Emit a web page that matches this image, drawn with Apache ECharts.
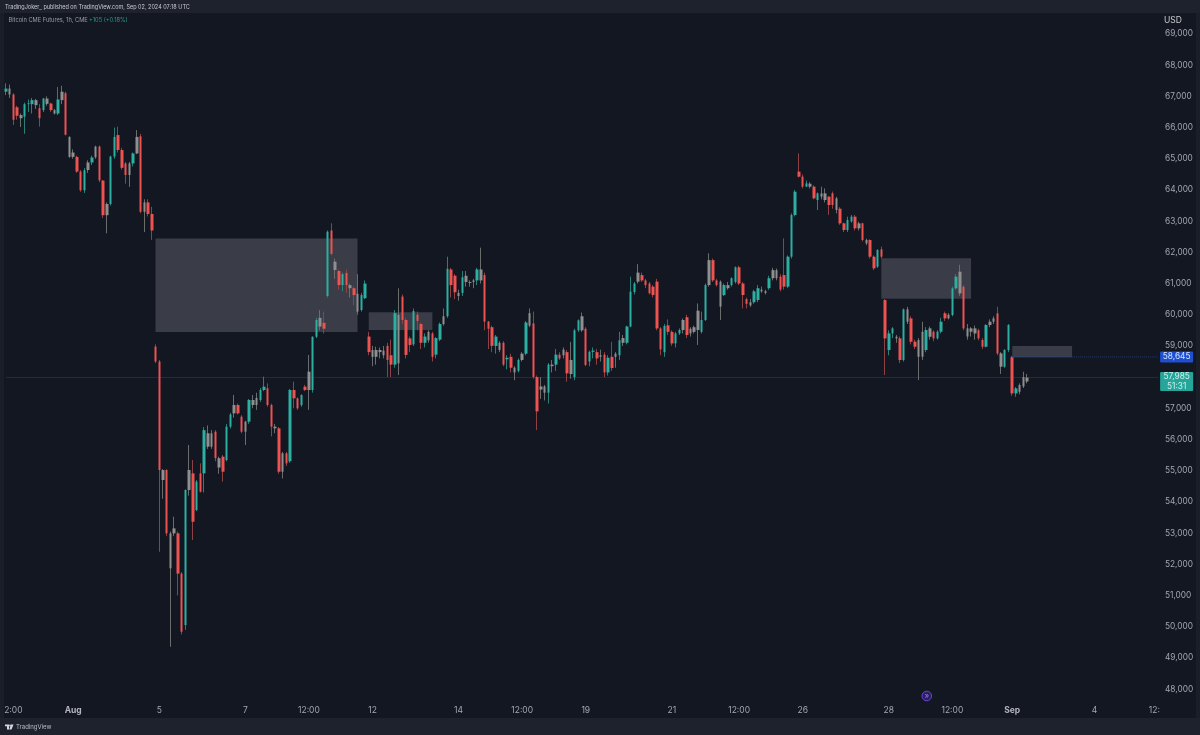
<!DOCTYPE html>
<html>
<head>
<meta charset="utf-8">
<style>html,body{margin:0;padding:0;background:#131722}#c{width:1200px;height:735px}</style>
<script src="https://cdn.jsdelivr.net/npm/echarts@6/dist/echarts.min.js"></script>
</head>
<body>
<div id="c"></div>
<script>
// Each row: open, close, low, high
const candles = [
[67150,67250,67040,67420],[67250,67060,66950,67380],[67060,66250,66080,67100],[66650,66380,66250,66700],[66300,66400,66020,66450],
[66350,66750,65800,66800],[66750,66780,66500,66900],[66750,66880,66450,66950],[66880,66720,66600,66920],[66620,66300,66030,66750],
[66560,66930,66500,66950],[66930,66760,66700,67000],[66770,66560,66500,66800],[66560,66450,66420,66600],[66450,66900,66400,67300],
[66880,67150,66750,67340],[67100,65770,65750,67150],[65700,65060,65030,65720],[65060,65200,65000,65300],[65060,64590,64550,65100],
[64590,63990,63940,64640],[63990,64630,63900,64700],[64640,64880,64550,64950],[64880,65040,64800,65100],[65050,65390,65000,65420],
[65390,64310,64250,65420],[64300,63190,63100,64320],[63190,63550,62610,63600],[63550,65070,63500,65100],[65070,65700,65000,66000],
[65760,65280,65200,66030],[65280,64710,64650,65350],[64850,64480,64200,64900],[64480,64850,64100,64900],[64850,65170,64750,65200],
[65170,65700,65150,65920],[65720,63300,63250,65800],[63300,63600,62650,63700],[63600,63230,63150,63700],[63230,62700,62400,63460],
[58976,58500,58450,59050],[58500,55020,52400,58550],[55020,54700,54100,55050],[55020,52990,52900,55050],[52990,51870,49355,53050],
[52990,53150,52900,53524],[52990,51700,51000,53050],[51700,49836,49750,51750],[50050,54380,49900,54400],[54380,55020,54200,55823],
[54914,53364,52776,55342],[53738,54647,53700,54700],[54914,54326,54300,55235],[54914,56300,54300,56400],[56200,55769,55700,56450],
[55769,56197,55700,56300],[56250,55400,55300,56300],[55400,55100,54900,55450],[55449,54967,54647,55500],[55342,56411,55300,56500],
[56411,56800,56350,56850],[56838,57105,56700,57426],[57105,56838,56800,57150],[56731,56250,56200,56780],[56250,56571,55823,56600],
[56571,57266,56500,57300],[57266,57105,57000,57426],[57105,57330,56950,57500],[57266,57586,57200,57650],[57586,57693,57550,58014],
[57640,57105,57050,57800],[57105,56411,56100,57150],[56411,56357,56200,56500],[56357,54967,54900,56400],[54967,55555,54750,55600],
[55555,55235,55150,55600],[55300,57586,55250,57620],[57586,57319,57000,57854],[57319,56998,56950,57350],[57100,57426,57050,57450],
[57693,57586,57550,57750],[57586,58174,56950,58709],[57585,59295,57500,59300],[59295,59830,59250,59900],[59900,59620,59500,60150],
[59740,59550,59400,60100],[60600,62660,60550,62700],[62700,61950,61900,62930],[61700,61434,61150,61800],[61400,60950,60800,61450],
[60950,61300,60750,61350],[61340,60950,60700,61450],[60950,60850,60550,61000],[60850,60630,60300,60900],[60670,60100,60000,61300],
[60150,60630,60100,60700],[60530,61000,60500,61100],[59300,58800,58700,59450],[58870,58650,58350,59000],[58650,58870,58400,58975],
[58800,58870,58600,58950],[58850,58700,58600,59000],[59000,58550,58000,59100],[58700,58400,58000,59200],[58400,60050,58300,60150],
[60000,58440,58066,60846],[60580,59830,59700,60650],[59830,58710,58600,59900],[59240,59030,58800,59300],[59050,60120,59000,60200],
[60000,59800,59500,60100],[59700,59100,58900,59750],[59100,59300,58950,59400],[59450,59180,59100,59500],[59400,58650,58500,59450],
[58720,59250,58600,59280],[59200,59700,59150,59750],[59700,59950,59650,60200],[59950,61470,59900,61860],[61450,60950,60550,61500],
[61250,60720,60500,61300],[60700,60600,60450,60800],[60700,61200,60600,61400],[61250,61050,60900,61400],[61050,61020,60900,61100],
[61050,61100,60850,61150],[61100,61450,60950,61500],[61450,61100,61000,62150],[61270,59780,59500,61350],[59780,59550,58900,59800],
[59600,59000,58800,59650],[59000,59300,58750,59350],[59100,58870,58800,59150],[59100,58400,58350,59150],[58570,58620,58250,58700],
[58650,58300,58150,58750],[58300,58150,57900,58350],[58200,58550,58150,58600],[58550,58750,58500,58800],[58750,59750,58700,59800],
[59650,60050,59600,60200],[59720,58000,57950,60100],[58000,56900,56300,58050],[57600,57700,57300,58000],[57700,57500,57250,57750],
[57500,58400,57150,58450],[58400,58350,58150,58550],[58400,58720,58200,58900],[58720,58600,58550,58800],[58700,58880,58600,58950],
[58800,58120,57850,58870],[58550,58100,57950,59130],[58000,59500,57900,59550],[59500,59820,59450,59850],[59950,59500,59450,60070],
[59550,58390,58350,59600],[58500,58810,58350,58850],[58810,58850,58600,58950],[58800,58600,58400,58900],[58650,58700,58500,58880],
[58720,58150,58000,58800],[58150,58620,58050,58700],[58650,58290,58200,59130],[58750,58650,58300,58800],[58700,59180,58550,59450],
[59250,59100,59000,59350],[59100,59620,59050,59650],[59620,60740,59600,61220],[60730,61000,60650,61050],[61060,61350,61000,61620],
[61270,61100,61050,61350],[61100,60950,60850,61150],[61000,60690,60650,61050],[60900,60630,60550,60950],[61060,59560,59500,61150],
[59560,58890,58700,59600],[58800,59640,58650,59700],[59660,59450,59350,59850],[59450,59080,59000,59500],[59080,59400,58950,59450],
[59400,59510,59350,59560],[59510,59830,59400,59880],[59920,59350,59250,60000],[59550,59400,59300,59600],[59450,59600,59400,59650],
[60130,59510,59030,60360],[59450,59830,59400,60100],[59830,60950,59800,61000],[60950,61750,60900,61970],[61750,61100,61050,61800],
[61100,60950,60900,61150],[61060,60260,59830,61100],[60630,60950,60600,61000],[60950,60850,60800,61050],[60950,61170,60900,61200],
[61050,61520,61000,61550],[61520,61000,60950,61570],[61000,60630,60200,61050],[60500,60350,60200,60550],[60300,60400,60250,60500],
[60400,60750,60350,60800],[60470,60850,60400,60950],[60800,60750,60700,60900],[60750,60700,60650,60800],[60850,61170,60800,61250],
[61170,61430,61100,61500],[61430,61170,61100,61480],[61220,60810,60750,61300],[61270,60900,60800,62450],[60900,61860,60850,61900],
[61860,63196,61800,63250],[63196,63945,63150,64000],[64586,64426,64400,65174],[64426,64105,64050,64500],[64105,64212,64100,64300],
[64200,64105,64050,64250],[64105,63731,63700,64150],[63677,63891,63357,63920],[63891,63784,63700,64105],[63891,63677,63600,64050],
[63784,63517,63200,63800],[63891,63517,63400,63950],[63731,63357,63250,63780],[63400,62929,62880,63450],[62929,62715,62650,62950],
[62715,63036,62650,63143],[62990,63143,62950,63200],[63143,62769,62700,63200],[62929,62769,62700,62980],[62929,62395,62350,62950],
[62395,62288,62230,62440],[62395,61860,61800,62420],[61860,61486,61430,61900],[61540,62074,61500,62100],[62095,61860,61800,62180],
[60470,59240,58065,60500],[58867,59402,58700,59500],[59400,59562,59250,59600],[59294,59241,59100,59350],[59241,58546,58450,59300],
[58546,60171,58500,60200],[60171,59776,59700,60250],[59882,59134,59050,59950],[59134,58974,58900,59200],[59188,58653,57905,59250],
[58653,59455,58550,59776],[58867,59510,58800,59600],[59562,59294,59200,59620],[59455,59241,59150,59500],[59241,59455,59200,59500],
[59455,59776,59400,59900],[60043,59882,59800,60100],[59882,60000,59850,60050],[59989,60845,59950,60900],[60845,61219,60800,61300],
[61379,60684,60600,61600],[60898,59562,59500,60950],[59300,59562,59200,59700],[59562,59455,59300,59600],[59562,59400,59200,59650],
[59500,59241,59180,59550],[59188,58974,58900,59250],[58974,59669,58950,59700],[59669,59776,59600,59850],[59776,59882,59700,59950],
[60043,58760,58700,60255],[58760,58332,58100,58800],[58332,58867,58300,58900],[58867,59669,58800,59700],[58636,57477,57400,58680],
[57477,57637,57370,57680],[57530,57744,57450,57800],[57700,58000,57650,58170],[57860,57985,57800,58100]
];
// Candles that blur to a neutral grey in the reference
const mutedBars = [1,4,8,11,13,15,17,18,22,24,27,33,35,37,42,44,45,49,54,55,57,61,64,66,67,72,74,81,84,88,92,94,98,99,100,101,105,113,117,121,123,124,125,127,132,136,138,140,143,144,146,149,151,154,159,163,165,169,181,183,184,185,188,191,193,199,202,203,205,206,215,218,219,222,228,230,238,241,244,245,247,252,255,257,258,259,263,264,266,271,272,273];
const slotCount = 309;
const timeLabels = {2:'2:00',18:'Aug',41:'5',64:'7',81:'12:00',98:'12',121:'14',138:'12:00',155:'19',178:'21',196:'12:00',213:'26',236:'28',253:'12:00',269:'Sep',291:'4',307:'12:'};
const boldLabels = ['Aug','Sep'];
const priceMin = 47000, priceMax = 70000, priceStep = 1000;
// Zones: first slot, last slot, lower price, upper price
const zones = [[40,94,59446,62444],[97,114,59510,60078],[234,258,60514,61809],[269,285,58640,59000]];
const lastPrice = 57985, lastCountdown = '51:31', targetPrice = 58645, targetFromSlot = 269;

const UP='#2bb0a2', DOWN='#ef5350', MUTED='#8f908e';
const fmt = v => v.toLocaleString('en-US');
const cats = Array.from({length:slotCount},(_,i)=>String(i));
const muted = new Set(mutedBars);
const wicks = candles.map((c,i)=>({value:c, itemStyle: muted.has(i)?{borderColor:'#6b6c6c',borderColor0:'#6b6c6c'}:undefined}));
const bodies = candles.map((c,i)=>{
  const lo=Math.min(c[0],c[1]),hi=Math.max(c[0],c[1]);
  return {value:[c[0],c[1],lo,hi], itemStyle: muted.has(i)?{color:MUTED,color0:MUTED,borderColor:MUTED,borderColor0:MUTED}:undefined};
});
const lastLine = cats.map(()=>lastPrice);
const targetLine = cats.map((_,i)=>i>=targetFromSlot?targetPrice:null);
const chart = echarts.init(document.getElementById('c'),null,{renderer:'canvas'});
const FONT='Inter, "Noto Sans", sans-serif';
chart.setOption({
  animation:false,
  backgroundColor:'#131722',
  grid:{left:4,right:40,top:2.8,height:717.4},
  xAxis:{type:'category',data:cats,boundaryGap:true,
    axisLine:{show:false},axisTick:{show:false},splitLine:{show:false},
    axisLabel:{inside:true,margin:5,interval:(i)=>timeLabels[i]!==undefined,hideOverlap:false,color:'#a3a6af',fontSize:8.5,fontFamily:FONT,
      formatter:(v)=>{const t=timeLabels[v]; return boldLabels.includes(t)?'{b|'+t+'}':t;},
      rich:{b:{fontWeight:'bold',color:'#b4b6bd',fontSize:8.5,fontFamily:FONT}}}},
  yAxis:{type:'value',position:'right',min:priceMin,max:priceMax,interval:priceStep,scale:false,
    axisLine:{show:false},axisTick:{show:false},splitLine:{show:false},
    axisLabel:{margin:5,color:'#a3a6af',fontSize:8.3,padding:[2,0,0,0],fontFamily:FONT,
      formatter:(v)=>(v===priceMin||v===priceMax)?'':fmt(v)}},
  series:[
    {name:'last',type:'line',data:lastLine,symbol:'none',silent:true,z:1,clip:false,
     lineStyle:{color:'#26a69a',width:1,type:'solid',opacity:0.22},
     endLabel:{show:true,distance:2,offset:[16.5,4],formatter:()=>fmt(lastPrice)+'\n'+lastCountdown,backgroundColor:'#26a69a',color:'#cfeee8',
       fontSize:8.3,fontFamily:FONT,lineHeight:9.5,width:33,height:19,align:'center',verticalAlign:'middle',borderRadius:1}},
    {name:'target',type:'line',data:targetLine,symbol:'none',silent:true,z:1,clip:false,connectNulls:false,
     lineStyle:{color:'#2a55c0',width:1,type:'dotted',opacity:0.6},
     endLabel:{show:true,distance:2,offset:[16.5,0],formatter:()=>fmt(targetPrice),backgroundColor:'#1e4fcf',color:'#d8e2fb',
       fontSize:8.3,fontFamily:FONT,width:33,height:11,lineHeight:11,align:'center',verticalAlign:'middle',borderRadius:1}},
    {name:'wicks',type:'candlestick',data:wicks,barWidth:1,z:2,silent:true,
     itemStyle:{color:'#2a7f79',color0:'#8f4145',borderColor:'#2a7f79',borderColor0:'#8f4145',borderWidth:1}},
    {name:'bodies',type:'candlestick',data:bodies,barWidth:3,z:3,silent:true,
     itemStyle:{color:UP,color0:DOWN,borderColor:UP,borderColor0:DOWN,borderWidth:0},
     markArea:{silent:true,itemStyle:{color:'rgba(150,150,160,0.3)'},z:1,
       data:zones.map(z=>[{xAxis:z[0],yAxis:z[2]},{xAxis:z[1],yAxis:z[3]}])}}
  ],
  graphic:[
    {type:'rect',z:50,silent:true,shape:{x:0,y:0,width:1200,height:13},style:{fill:'#1e222d'}},
    {type:'rect',z:50,silent:true,shape:{x:0,y:718,width:1200,height:17},style:{fill:'#1e222d'}},
    {type:'rect',z:50,silent:true,shape:{x:0,y:13,width:4,height:705},style:{fill:'#1a1e28'}},
    {type:'rect',z:50,silent:true,shape:{x:1196,y:13,width:4,height:705},style:{fill:'#1a1e28'}},
    {type:'text',z:51,silent:true,style:{x:5,y:7,text:'TradingJoker_ published on TradingView.com, Sep 02, 2024 07:18 UTC',fill:'#c9cbd1',font:'5.5px '+FONT,textVerticalAlign:'middle'}},
    {type:'text',z:51,silent:true,style:{x:8.5,y:20,text:'Bitcoin CME Futures, 1h, CME',fill:'#9a9da6',font:'5.7px '+FONT,textVerticalAlign:'middle'}},
    {type:'text',z:51,silent:true,style:{x:89,y:20,text:'+105 (+0.18%)',fill:'#2a9a8f',font:'5.7px '+FONT,textVerticalAlign:'middle'}},
    {type:'text',z:51,silent:true,style:{x:1173,y:20,text:'USD',fill:'#c9cbd1',font:'8.5px '+FONT,textAlign:'center',textVerticalAlign:'middle'}},
    {type:'text',z:51,silent:true,style:{x:16,y:727,text:'TradingView',fill:'#b9bcc4',font:'6px '+FONT,textVerticalAlign:'middle'}},
    {type:'polygon',z:51,silent:true,shape:{points:[[5,724.5],[9,724.5],[9,729.5],[7,729.5],[7,726.3],[5,726.3]]},style:{fill:'#d5d7dc'}},
    {type:'circle',z:51,silent:true,shape:{cx:10,cy:725.4,r:0.9},style:{fill:'#d5d7dc'}},
    {type:'polygon',z:51,silent:true,shape:{points:[[11,724.5],[13.5,724.5],[11.5,729.5],[9.2,729.5]]},style:{fill:'#d5d7dc'}},
    {type:'circle',z:51,silent:true,shape:{cx:926.8,cy:696,r:4.8},style:{fill:'#2a2060',stroke:'#6d3fe0',lineWidth:1}},
    {type:'text',z:52,silent:true,style:{x:926.8,y:696,text:'\u00bb',fill:'#9a78f0',font:'8px '+FONT,textAlign:'center',textVerticalAlign:'middle'}}
  ]
});
</script>
</body>
</html>
